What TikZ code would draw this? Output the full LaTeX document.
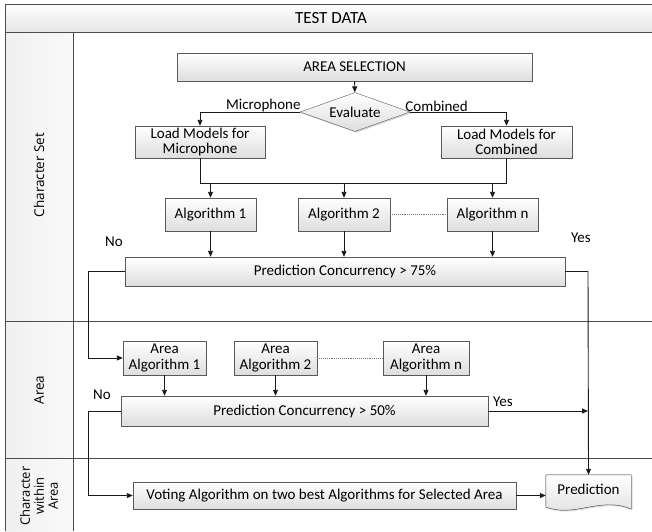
\documentclass[tikz,border=0pt]{standalone}
\usepackage{fontspec}
\setmainfont{Carlito}
\newfontfamily\lanefont{Open Sans}
\usetikzlibrary{arrows.meta,shadows,shapes.geometric}

\tikzset{
  box/.style={draw=black!65, top color=white, bottom color=black!13,
    drop shadow={shadow xshift=1.3pt, shadow yshift=-1.3pt, opacity=0.3},
    align=center, inner sep=0pt, font=\fontsize{15}{15.5}\selectfont},
  txt/.style={font=\fontsize{15}{15.5}\selectfont, inner sep=1pt},
  lanetxt/.style={font=\lanefont\fontsize{13.5}{14.5}\selectfont, inner sep=1pt, rotate=90, align=center},
  line/.style={draw=black!90, line width=0.9pt},
  arr/.style={line, -{Triangle[length=6pt,width=5pt]}},
  lane/.style={draw=black!70, line width=0.8pt},
}

\begin{document}
\begin{tikzpicture}[x=1pt, y=-1pt]
        \useasboundingbox (0,0) rectangle (652,531);

        % Pool and lanes
        \shade[top color=white, bottom color=black!10] (5,4) rectangle (652,32);
        \shade[left color=black!6, right color=black!2] (5,32) rectangle (73.5,531);
        \draw[lane] (652,4) -- (5,4) -- (5,531);
        \draw[lane] (5,32) -- (652,32);
        \draw[lane] (73.5,32) -- (73.5,531);
        \draw[lane] (5,321) -- (652,321);
        \draw[lane] (5,458) -- (652,458);
        \node[txt, font=\fontsize{17}{18}\selectfont] (title) at (331,18) {TEST DATA};
        \node[lanetxt] (laneA) at (39,175) {Character Set};
        \node[lanetxt] (laneB) at (39,390) {Area};
        \node[lanetxt, font=\lanefont\fontsize{13}{14}\selectfont] (laneC) at (39,496) {Character\\within\\Area};

        % Character set lane
        \node[box, minimum width=355pt, minimum height=28pt] (sel) at (354.5,67) {AREA SELECTION};
        \node[box, diamond, aspect=2.8, minimum width=110pt, minimum height=39pt] (eval) at (355,112) {Evaluate};
        \node[box, minimum width=130pt, minimum height=32pt] (mic) at (200,142) {Load Models for\\Microphone};
        \node[box, minimum width=131pt, minimum height=32pt] (comb) at (506.5,142) {Load Models for\\Combined};
        \node[box, minimum width=91pt, minimum height=33pt] (alg1) at (210.5,214.5) {Algorithm 1};
        \node[box, minimum width=92pt, minimum height=33pt] (alg2) at (344,214.5) {Algorithm 2};
        \node[box, minimum width=91pt, minimum height=33pt] (algn) at (492.5,214.5) {Algorithm n};
        \node[box, minimum width=440pt, minimum height=29pt] (pc75) at (345,271.5) {Prediction Concurrency > 75\%};

        \coordinate (busL) at (200,183);
        \coordinate (busR) at (506.5,183);

        \draw[arr] (sel) -- (eval);
        \draw[arr] (eval.west) -| (mic.north);
        \draw[arr] (eval.east) -| (comb.north);
        \node[txt, anchor=south east] (micLbl) at ([xshift=2pt, yshift=-1pt]eval.west) {Microphone};
        \node[txt, anchor=south west] (combLbl) at ([xshift=-6pt, yshift=-1pt]eval.east) {Combined};
        \draw[line] (mic.south) -- (busL) -- (busR) -- (comb.south);
        \foreach \a in {alg1, alg2, algn} {
            \draw[arr] (\a.north |- busL) -- (\a.north);
            \draw[arr] (\a.south) -- (\a.south |- pc75.north);
        }
        \draw[line, densely dotted, black!55] (alg2.east) -- (algn.west);

        % Area lane
        \node[box, minimum width=83pt, minimum height=34pt] (aa1) at (164.5,358) {Area\\Algorithm 1};
        \node[box, minimum width=83pt, minimum height=34pt] (aa2) at (275.5,358) {Area\\Algorithm 2};
        \node[box, minimum width=86pt, minimum height=34pt] (aan) at (426,358) {Area\\Algorithm n};
        \node[box, minimum width=367pt, minimum height=30pt] (pc50) at (304.5,411) {Prediction Concurrency > 50\%};

        \foreach \a in {aa1, aa2, aan}
            \draw[arr] (\a.south) -- (\a.south |- pc50.north);
        \draw[line, densely dotted, black!55] (aa2.east) -- (aan.west);

        % Character within area lane
        \node[box, minimum width=383pt, minimum height=27pt] (vote) at (324.5,495.5) {Voting Algorithm on two best Algorithms for Selected Area};
        \node[txt, minimum width=85pt, minimum height=37pt] (pred) at (588.5,493.5) {};
        \filldraw[draw=black!65, top color=white, bottom color=black!13,
            drop shadow={shadow xshift=1.3pt, shadow yshift=-1.3pt, opacity=0.3}]
            (pred.north west) -- (pred.north east) -- (pred.east |- 0,509)
            .. controls (600,496) and (575,518) .. (pred.west |- 0,507) -- cycle;
        \node[txt] (predTxt) at (588.5,489) {Prediction};

        % Decisions
        \coordinate (yesPt) at (588,271.5);
        \draw[arr] (pc75.east) -- (yesPt) -- (pred.north);
        \draw[arr] (pc75.west) -- ++(-36,0) |- (aa1.west);
        \draw[arr] (pc50.east) -- (pc50.east -| yesPt);
        \draw[arr] (pc50.west) -- ++(-32,0) |- (vote.west);
        \draw[arr] (vote.east) -- (pred.west |- vote.east);
        \node[txt] (no1) at (114,242) {No};
        \node[txt] (yes1) at (581,238) {Yes};
        \node[txt] (no2) at (102,395) {No};
        \node[txt] (yes2) at (503,402) {Yes};

    \end{tikzpicture}
\end{document}
